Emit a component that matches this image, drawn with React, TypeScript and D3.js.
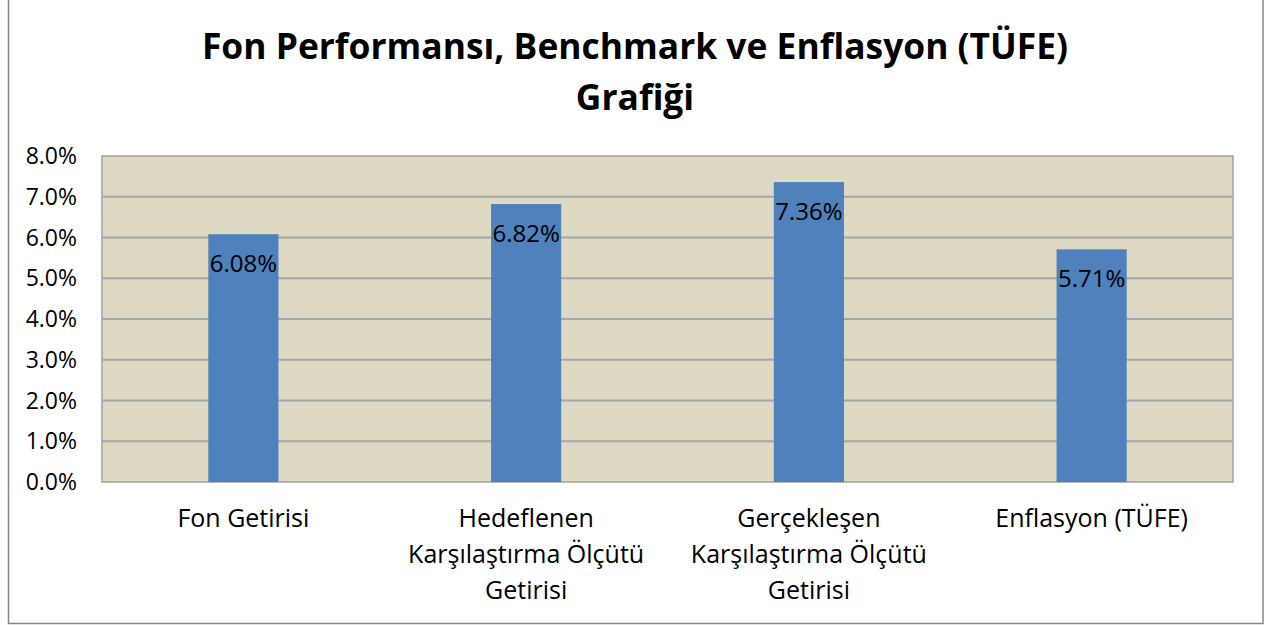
import React, { useEffect, useRef } from 'react';
import * as d3 from 'd3';

const categories: string[][] = [
  ['Fon Getirisi'],
  ['Hedeflenen', 'Karşılaştırma Ölçütü', 'Getirisi'],
  ['Gerçekleşen', 'Karşılaştırma Ölçütü', 'Getirisi'],
  ['Enflasyon (TÜFE)'],
];
const values: number[] = [6.08, 6.82, 7.36, 5.71];
const yTicks: number[] = [0, 1, 2, 3, 4, 5, 6, 7, 8];
const titleLines: string[] = ['Fon Performansı, Benchmark ve Enflasyon (TÜFE)', 'Grafiği'];

const W = 1269;
const H = 625;
const FONT = '"Open Sans", sans-serif';

const App: React.FC = () => {
  const svgRef = useRef<SVGSVGElement | null>(null);

  useEffect(() => {
    const svg = d3.select(svgRef.current);
    svg.selectAll('*').remove();

    const plot = { left: 102, right: 1233, top: 156, bottom: 482 };

    // outer chart frame
    svg.append('rect')
      .attr('x', 8.5).attr('y', -5)
      .attr('width', 1263 - 8.5).attr('height', 623.5 + 5)
      .attr('fill', '#fff').attr('stroke', '#868686').attr('stroke-width', 1.5);

    const x = d3.scaleBand<number>()
      .domain(values.map((_, i) => i))
      .range([plot.left, plot.right])
      .paddingInner(0.752).paddingOuter(0.376);
    const y = d3.scaleLinear().domain([0, 8]).range([plot.bottom, plot.top]);

    svg.append('rect')
      .attr('x', plot.left).attr('y', plot.top)
      .attr('width', plot.right - plot.left).attr('height', plot.bottom - plot.top)
      .attr('fill', '#DDD9C3').attr('stroke', '#A0A0A0').attr('stroke-width', 1.5);

    svg.append('g').selectAll('line')
      .data(yTicks.slice(1, -1))
      .enter().append('line')
      .attr('x1', plot.left).attr('x2', plot.right)
      .attr('y1', (d) => y(d)).attr('y2', (d) => y(d))
      .attr('stroke', '#A6A6A6').attr('stroke-width', 2);

    svg.append('g').selectAll('text')
      .data(yTicks)
      .enter().append('text')
      .attr('x', 77).attr('y', (d) => y(d))
      .attr('dy', '0.35em')
      .attr('text-anchor', 'end')
      .style('font-family', FONT).style('font-size', '23px')
      .text((d) => d3.format('.1f')(d) + '%');

    svg.append('g').selectAll('rect')
      .data(values)
      .enter().append('rect')
      .attr('x', (_, i) => x(i)!)
      .attr('width', x.bandwidth())
      .attr('y', (d) => y(d))
      .attr('height', (d) => plot.bottom - y(d))
      .attr('fill', '#4F81BD');

    svg.append('g').selectAll('text')
      .data(values)
      .enter().append('text')
      .attr('x', (_, i) => x(i)! + x.bandwidth() / 2)
      .attr('y', (d) => y(d) + 38)
      .attr('text-anchor', 'middle')
      .style('font-family', FONT).style('font-size', '24px')
      .text((d) => d.toFixed(2) + '%');

    const cat = svg.append('g').selectAll('text')
      .data(categories)
      .enter().append('text')
      .attr('text-anchor', 'middle')
      .style('font-family', FONT).style('font-size', '25px');
    cat.selectAll('tspan')
      .data((d, i) => d.map((s) => ({ s, i })))
      .enter().append('tspan')
      .attr('x', (d) => x(d.i)! + x.bandwidth() / 2)
      .attr('y', (_, j) => 527 + j * 36)
      .text((d) => d.s);

    svg.append('g').selectAll('text')
      .data(titleLines)
      .enter().append('text')
      .attr('x', 635).attr('y', (_, i) => 59 + i * 51)
      .attr('text-anchor', 'middle')
      .style('font-family', FONT).style('font-size', '35.4px').style('font-weight', 'bold')
      .text((d) => d);
  }, []);

  return <svg ref={svgRef} width={W} height={H} style={{ position: 'absolute', left: 0, top: 0 }} />;
};

export default App;
